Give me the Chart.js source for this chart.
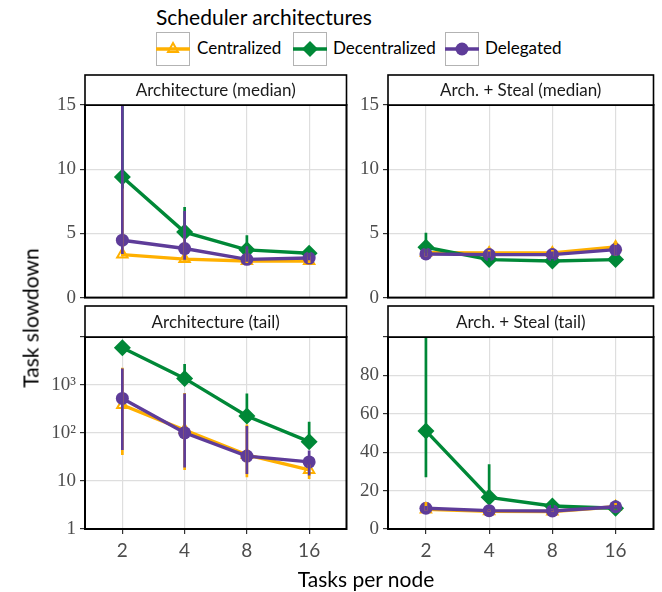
<!DOCTYPE html>
<html>
<head>
<meta charset="utf-8">
<script src="https://cdn.jsdelivr.net/npm/chart.js@4.4.1/dist/chart.umd.min.js"></script>
<style>
  body { margin: 0; background: #fff; }
  #wrap { position: relative; width: 662px; height: 592px; overflow: hidden; font-family: Lato, sans-serif; color: #000; }
  canvas { position: absolute; }
  .txt { position: absolute; white-space: nowrap; }
  .key { position: absolute; top: 32px; width: 34px; height: 34px; }
</style>
</head>
<body>
<div id="wrap">
  <div class="txt" style="left:156px; top:4px; font-size:21px;">Scheduler architectures</div>
  <svg class="key" style="left:156px;" viewBox="0 0 34 34">
    <rect x="0.5" y="0.5" width="33" height="33" fill="#fff" stroke="#b3b3b3"/>
    <line x1="0" y1="17" x2="34" y2="17" stroke="#FFB000" stroke-width="3.3"/>
    <polygon points="17,11 22,20 12,20" fill="none" stroke="#FFB000" stroke-width="2"/>
  </svg>
  <div class="txt" style="left:197px; top:37px; font-size:17px;">Centralized</div>
  <svg class="key" style="left:293px;" viewBox="0 0 34 34">
    <rect x="0.5" y="0.5" width="33" height="33" fill="#fff" stroke="#b3b3b3"/>
    <line x1="0" y1="17" x2="34" y2="17" stroke="#008837" stroke-width="3.3"/>
    <polygon points="17,9 25,17 17,25 9,17" fill="#008837"/>
  </svg>
  <div class="txt" style="left:333px; top:37px; font-size:17px;">Decentralized</div>
  <svg class="key" style="left:445px;" viewBox="0 0 34 34">
    <rect x="0.5" y="0.5" width="33" height="33" fill="#fff" stroke="#b3b3b3"/>
    <line x1="0" y1="17" x2="34" y2="17" stroke="#5E3C99" stroke-width="3.3"/>
    <circle cx="17" cy="17" r="6.5" fill="#5E3C99"/>
  </svg>
  <div class="txt" style="left:485px; top:37px; font-size:17px;">Delegated</div>

  <canvas id="tl" width="355" height="242" style="left:0; top:71px;"></canvas>
  <canvas id="tr" width="311" height="242" style="left:351px; top:71px;"></canvas>
  <canvas id="bl" width="355" height="263" style="left:0; top:303px;"></canvas>
  <canvas id="br" width="311" height="263" style="left:351px; top:303px;"></canvas>

  <div class="txt" style="left:30px; top:318px; font-size:21px; transform:translate(-50%,-50%) rotate(-90deg);">Task slowdown</div>
  <div class="txt" style="left:366px; top:578px; font-size:21px; transform:translate(-50%,-50%);">Tasks per node</div>
</div>
<script>
const taskCounts = ['2', '4', '8', '16'];
const seriesNames = ['Centralized', 'Decentralized', 'Delegated'];
const seriesColors = ['#FFB000', '#008837', '#5E3C99'];

// Architecture (median)
const archMedCentralized = [3.35, 3.0, 2.85, 2.85];
const archMedCentralizedErr = [[3.2, 9.5], [2.85, 5.8], [2.7, 3.8], [2.7, 3.5]];
const archMedDecentralized = [9.4, 5.1, 3.72, 3.45];
const archMedDecentralizedErr = [[8.5, 16], [4.7, 7.05], [3.4, 4.85], [3.2, 3.8]];
const archMedDelegated = [4.47, 3.82, 2.98, 3.08];
const archMedDelegatedErr = [[3.4, 16], [2.95, 6.75], [2.8, 4.0], [2.9, 3.5]];

// Arch. + Steal (median)
const stealMedCentralized = [3.5, 3.48, 3.48, 3.95];
const stealMedCentralizedErr = [[3.2, 3.8], [3.2, 3.7], [3.2, 3.7], [3.3, 4.3]];
const stealMedDecentralized = [3.92, 2.96, 2.85, 2.96];
const stealMedDecentralizedErr = [[3.5, 5.05], [2.8, 3.1], [2.7, 3.0], [2.8, 3.1]];
const stealMedDelegated = [3.4, 3.35, 3.35, 3.74];
const stealMedDelegatedErr = [[3.2, 3.8], [3.1, 3.6], [3.1, 3.6], [3.3, 4.1]];

// Architecture (tail)
const archTailCentralized = [383, 115, 35, 17];
const archTailCentralizedErr = [[35, 2300], [17, 680], [12, 150], [11, 22]];
const archTailDecentralized = [5980, 1373, 226, 66];
const archTailDecentralizedErr = [[5500, 6500], [1200, 2740], [200, 668], [55, 172]];
const archTailDelegated = [525, 101, 33, 25];
const archTailDelegatedErr = [[44, 2220], [19, 668], [14, 140], [13, 43]];

// Arch. + Steal (tail)
const stealTailCentralized = [10.2, 9.2, 9.1, 11.6];
const stealTailCentralizedErr = [[9.5, 14], [8.8, 10], [8.8, 10], [10, 13.5]];
const stealTailDecentralized = [51.1, 16.5, 12, 10.8];
const stealTailDecentralizedErr = [[26.9, 105], [15, 33.7], [11, 13], [10, 11.5]];
const stealTailDelegated = [10.8, 9.55, 9.4, 11.6];
const stealTailDelegatedErr = [[9.5, 12], [9, 10], [9, 10], [10.5, 12.5]];

const medianTicks = [0, 5, 10, 15];
const logTicks = [1, 10, 100, 1000, 10000];
const logTickLabels = ['1', '10', '10²', '10³', ''];
const tailTicks = [0, 20, 40, 60, 80, 100];

const panelPlugin = {
  id: 'panelDeco',
  afterDatasetsDraw(chart) {
    const { ctx, chartArea: a, scales: { x, y } } = chart;
    ctx.save();
    ctx.beginPath();
    ctx.rect(a.left, a.top, a.right - a.left, a.bottom - a.top);
    ctx.clip();
    ctx.lineCap = 'butt';
    chart.data.datasets.forEach(ds => {
      ctx.strokeStyle = ds.borderColor;
      ctx.lineWidth = 2.7;
      ds.errorBars.forEach((e, j) => {
        const px = x.getPixelForValue(j);
        ctx.beginPath();
        ctx.moveTo(px, y.getPixelForValue(e[0]));
        ctx.lineTo(px, y.getPixelForValue(e[1]));
        ctx.stroke();
      });
    });
    ctx.restore();
  },
  afterDraw(chart) {
    const { ctx, chartArea: a } = chart;
    const opt = chart.options.plugins.panelDeco;
    ctx.save();
    ctx.strokeStyle = '#000';
    ctx.lineWidth = 2;
    ctx.strokeRect(a.left, a.top, a.right - a.left, a.bottom - a.top);
    ctx.fillStyle = '#fff';
    ctx.lineWidth = 1.6;
    ctx.fillRect(a.left, opt.stripTop, a.right - a.left, a.top - opt.stripTop);
    ctx.strokeRect(a.left, opt.stripTop, a.right - a.left, a.top - opt.stripTop);
    ctx.fillStyle = '#1a1a1a';
    ctx.font = '17px Lato, sans-serif';
    ctx.textAlign = 'center';
    ctx.textBaseline = 'middle';
    ctx.fillText(opt.strip, (a.left + a.right) / 2, (opt.stripTop + a.top) / 2 + 1);
    ctx.restore();
  }
};

function makeDatasets(values, errs) {
  const shapes = ['triangle', 'rectRot', 'circle'];
  const radii = [6, 8.5, 6.5];
  return seriesNames.map((name, i) => ({
    label: name,
    data: values[i].map((v, j) => ({ x: j, y: v })),
    errorBars: errs[i],
    borderColor: seriesColors[i],
    backgroundColor: seriesColors[i],
    borderWidth: 3.4,
    pointStyle: shapes[i],
    pointRadius: radii[i],
    pointBackgroundColor: i === 0 ? 'rgba(0,0,0,0)' : seriesColors[i],
    pointBorderColor: seriesColors[i],
    pointBorderWidth: i === 0 ? 2 : 0,
    order: 2 - i
  }));
}

function makePanel(id, opts) {
  const isLeft = opts.left;
  const isBottom = opts.bottom;
  const yScale = {
    type: opts.yType,
    min: opts.yMin,
    max: opts.yMax,
    afterBuildTicks: s => { s.ticks = opts.yTicks.map(v => ({ value: v })); },
    afterFit: s => { s.width = isLeft ? 85 : 37; },
    grid: { color: '#dedede', lineWidth: 1.2, tickLength: 5, tickColor: '#333' },
    border: { display: false },
    ticks: {
      padding: 4,
      color: '#4d4d4d',
      font: { family: 'Liberation Serif', size: 19 },
      callback: opts.yLabel
    }
  };
  new Chart(document.getElementById(id), {
    type: 'line',
    data: { datasets: makeDatasets(opts.values, opts.errs) },
    plugins: [panelPlugin],
    options: {
      responsive: false,
      animation: false,
      layout: { padding: { top: 34, right: isLeft ? 4 : 8, left: 0, bottom: 0 } },
      scales: {
        x: {
          type: 'linear',
          min: -0.6,
          max: 3.6,
          afterBuildTicks: s => { s.ticks = taskCounts.map((t, j) => ({ value: j })); },
          afterFit: s => { s.height = isBottom ? 37 : 15; },
          grid: { color: '#dedede', lineWidth: 1.2, drawTicks: isBottom, tickLength: 5, tickColor: '#333' },
          border: { display: false },
          ticks: {
            display: isBottom,
            padding: 5,
            color: '#4d4d4d',
            font: { family: 'Lato', size: 19 },
            callback: v => taskCounts[v]
          }
        },
        y: yScale
      },
      plugins: {
        legend: { display: false },
        tooltip: { enabled: false },
        panelDeco: { strip: opts.strip, stripTop: isBottom ? 3 : 4 }
      }
    }
  });
}

makePanel('tl', {
  left: true, bottom: false, strip: 'Architecture (median)',
  yType: 'linear', yMin: 0, yMax: 15, yTicks: medianTicks, yLabel: v => String(v),
  values: [archMedCentralized, archMedDecentralized, archMedDelegated],
  errs: [archMedCentralizedErr, archMedDecentralizedErr, archMedDelegatedErr]
});
makePanel('tr', {
  left: false, bottom: false, strip: 'Arch. + Steal (median)',
  yType: 'linear', yMin: 0, yMax: 15, yTicks: medianTicks, yLabel: v => String(v),
  values: [stealMedCentralized, stealMedDecentralized, stealMedDelegated],
  errs: [stealMedCentralizedErr, stealMedDecentralizedErr, stealMedDelegatedErr]
});
makePanel('bl', {
  left: true, bottom: true, strip: 'Architecture (tail)',
  yType: 'logarithmic', yMin: 1, yMax: 10000, yTicks: logTicks,
  yLabel: v => logTickLabels[logTicks.indexOf(v)],
  values: [archTailCentralized, archTailDecentralized, archTailDelegated],
  errs: [archTailCentralizedErr, archTailDecentralizedErr, archTailDelegatedErr]
});
makePanel('br', {
  left: false, bottom: true, strip: 'Arch. + Steal (tail)',
  yType: 'linear', yMin: 0, yMax: 100, yTicks: tailTicks, yLabel: v => (v === 100 ? '' : String(v)),
  values: [stealTailCentralized, stealTailDecentralized, stealTailDelegated],
  errs: [stealTailCentralizedErr, stealTailDecentralizedErr, stealTailDelegatedErr]
});
</script>
</body>
</html>
